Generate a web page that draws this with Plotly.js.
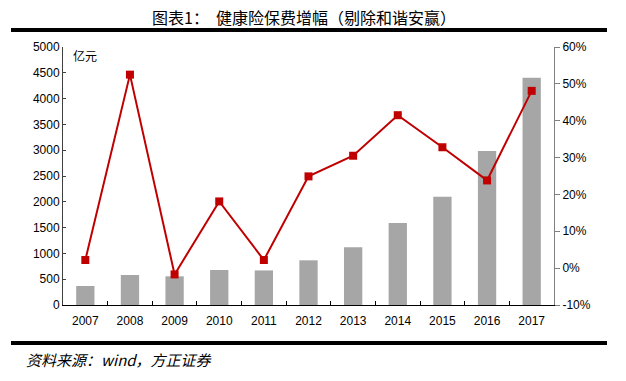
<!DOCTYPE html>
<html>
<head>
<meta charset="utf-8">
<script src="https://cdn.plot.ly/plotly-3.0.1.min.js"></script>
<style>html,body{margin:0;padding:0;background:#fff;}#chart{width:626px;height:381px;}</style>
</head>
<body>
<div id="chart"></div>
<script>
const years = ['2007','2008','2009','2010','2011','2012','2013','2014','2015','2016','2017'];
const premium = [368, 581, 556, 678, 670, 866, 1118, 1589, 2099, 2984, 4405];
const growthPct = [2.2, 52.5, -1.7, 18.1, 2.2, 24.9, 30.5, 41.5, 32.8, 23.8, 48.1];
const leftTicks = [0,500,1000,1500,2000,2500,3000,3500,4000,4500,5000];
const rightTicks = [-10,0,10,20,30,40,50,60];

const L = 63, R = 554, T = 47, B = 305;
const px = x => (x - L) / (R - L);
const py = y => (B - y) / (B - T);

const tickFont = {family: 'Liberation Sans, Arial, sans-serif', size: 12, color: '#000'};
const cjk = 'Noto Sans CJK SC, sans-serif';

const data = [
  {type: 'bar', x: years, y: premium, yaxis: 'y', marker: {color: '#A6A6A6'}, width: 0.41, hoverinfo: 'skip'},
  {type: 'scatter', mode: 'lines+markers', x: years, y: growthPct, yaxis: 'y2',
   line: {color: '#C00000', width: 2}, marker: {symbol: 'square', size: 8, color: '#C00000'}, hoverinfo: 'skip'}
];

const layout = {
  width: 626, height: 381,
  margin: {l: L, r: 626 - R, t: T, b: 381 - B, pad: 0, autoexpand: false},
  paper_bgcolor: '#fff', plot_bgcolor: '#fff',
  showlegend: false,
  bargap: 0.59,
  xaxis: {type: 'category', range: [-0.5, years.length - 0.5], automargin: false, showline: true, linecolor: '#000', linewidth: 1,
    ticks: 'inside', ticklen: 4, tickcolor: '#000', tickson: 'boundaries', ticklabelstandoff: 5,
    tickfont: tickFont, showgrid: false, zeroline: false, fixedrange: true},
  yaxis: {automargin: false, range: [0, 5000], tickvals: leftTicks, ticktext: leftTicks.map(String),
    showline: true, linecolor: '#404040', linewidth: 1, ticks: 'inside', ticklen: 3, tickcolor: '#404040',
    tickfont: tickFont, showgrid: false, zeroline: false, fixedrange: true},
  yaxis2: {automargin: false, range: [-10, 60], overlaying: 'y', side: 'right', tickvals: rightTicks,
    ticktext: rightTicks.map(v => v + '%'),
    showline: true, linecolor: '#808080', linewidth: 1, ticks: 'outside', ticklen: 5, tickcolor: '#808080',
    tickfont: tickFont, showgrid: false, zeroline: false, fixedrange: true},
  shapes: [
    {type: 'line', xref: 'paper', yref: 'paper', x0: px(11), x1: px(607), y0: py(30), y1: py(30),
     line: {color: '#000', width: 4}},
    {type: 'line', xref: 'paper', yref: 'paper', x0: px(11), x1: px(607), y0: py(343), y1: py(343),
     line: {color: '#000', width: 4}}
  ],
  annotations: [
    {xref: 'paper', yref: 'paper', x: px(304), y: py(17), xanchor: 'center', yanchor: 'middle',
     text: '图表1：  健康险保费增幅（剔除和谐安赢）', showarrow: false,
     font: {family: cjk, size: 16, color: '#000'}},
    {xref: 'paper', yref: 'paper', x: px(71), y: py(56), xanchor: 'left', yanchor: 'middle',
     text: '亿元', showarrow: false, font: {family: cjk, size: 12, color: '#000'}},
    {xref: 'paper', yref: 'paper', x: px(24), y: py(359), xanchor: 'left', yanchor: 'middle',
     text: '<i>资料来源：wind，方正证券</i>', showarrow: false,
     font: {family: cjk, size: 15, color: '#000'}}
  ]
};

Plotly.newPlot('chart', data, layout, {staticPlot: true, displayModeBar: false});
</script>
</body>
</html>
